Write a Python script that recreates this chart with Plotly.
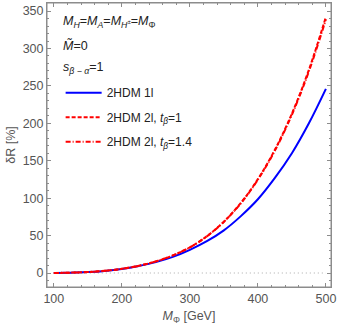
import plotly.graph_objects as go

m_phi = [100, 125, 150, 175, 200, 225, 250, 275, 300, 325, 350, 375, 400, 425, 450, 475, 500]
dR_1l = [0, 0.5, 1.2, 2.8, 5.5, 9.5, 14.5, 21.5, 31, 42.5, 57, 76, 98.5, 127, 160, 200, 246]
dR_2l_tb1 = [0, 0.5, 1.3, 2.9, 5.6, 9.6, 15.5, 23.5, 34.3, 49.2, 68.6, 93.7, 125.4, 164.6, 213, 271.5, 342]
dR_2l_tb14 = [0, 0.5, 1.3, 2.9, 5.6, 9.6, 15.5, 23.5, 34.2, 49.0, 68.3, 93.2, 124.7, 163.5, 211.5, 269.5, 339]
zero_line_x = [100, 500]
zero_line_y = [0, 0]

x_ticks = [100, 200, 300, 400, 500]
y_ticks = [0, 50, 100, 150, 200, 250, 300, 350]

FONT = "Liberation Sans"
GREY = "#555555"
FRAME = "#8c8c8c"

fig = go.Figure()
fig.add_trace(go.Scatter(x=zero_line_x, y=zero_line_y, mode="lines",
                         line=dict(color="#aaaaaa", width=1, dash="1px,3px"),
                         showlegend=False, hoverinfo="skip"))
fig.add_trace(go.Scatter(x=m_phi, y=dR_1l, mode="lines", name="2HDM 1l",
                         line=dict(color="#0000ff", width=2, shape="spline"),
                         legendgroup="a"))
fig.add_trace(go.Scatter(x=m_phi, y=dR_2l_tb1, mode="lines",
                         name="2HDM 2l, <i>t</i><sub><i>β</i></sub>=1",
                         line=dict(color="#ff0000", width=2, shape="spline", dash="4px,2px"),
                         legendgroup="b"))
fig.add_trace(go.Scatter(x=m_phi, y=dR_2l_tb14, mode="lines",
                         name="2HDM 2l, <i>t</i><sub><i>β</i></sub>=1.4",
                         line=dict(color="#ff0000", width=2, shape="spline", dash="5px,2px,1px,2px"),
                         legendgroup="c"))

axis_common = dict(showline=True, linecolor=FRAME, linewidth=1, mirror="allticks",
                   ticks="inside", ticklen=4, tickcolor=FRAME, tickwidth=1, showgrid=False,
                   zeroline=False,
                   tickfont=dict(family=FONT, size=12.5, color=GREY))

fig.update_xaxes(range=[90, 507.5], tickvals=x_ticks, **axis_common,
                 minor=dict(ticks="inside", ticklen=2, tickcolor=FRAME, dtick=20, showgrid=False),
                 title=dict(text="<i>M</i><sub>Φ</sub> [GeV]", standoff=6,
                            font=dict(family=FONT, size=12.5, color=GREY)))
fig.update_yaxes(range=[-18.7, 360.8], tickvals=y_ticks, **axis_common,
                 minor=dict(ticks="inside", ticklen=2, tickcolor=FRAME, dtick=10, showgrid=False),
                 title=dict(text="δR [%]", standoff=4,
                            font=dict(family=FONT, size=12.5, color=GREY)))

# plot frame
fig.add_shape(type="rect", xref="paper", yref="paper", x0=0, y0=0, x1=1, y1=1,
              line=dict(color=FRAME, width=1), fillcolor="rgba(0,0,0,0)", layer="above")

texts = [
    ("<i>M</i><sub><i>H</i></sub>=<i>M</i><sub><i>A</i></sub>=<i>M</i><sub><i>H</i><sup>±</sup></sub>=<i>M</i><sub>Φ</sub>", 22),
    ("<i>M̃</i>=0", 45),
    ("<i>s</i><sub><i>β</i> − <i>α</i></sub>=1", 68),
]
for t, ypx in texts:
    fig.add_annotation(text=t, xref="paper", yref="paper", x=(61 - 47.3) / 284.2,
                       y=1 - (ypx - 2.7) / 284.6, xanchor="left", yanchor="middle",
                       showarrow=False, font=dict(family=FONT, size=12.5, color="#222222"))

fig.update_layout(
    width=339, height=330,
    margin=dict(l=47, r=8, t=3, b=43, autoexpand=False),
    paper_bgcolor="white", plot_bgcolor="white",
    showlegend=True,
    legend=dict(x=0.048, y=1 - (78 - 2.7) / 284.6, xanchor="left", yanchor="top",
                bgcolor="rgba(0,0,0,0)", font=dict(family=FONT, size=12, color="#222222"),
                tracegroupgap=5.5, itemwidth=36),
)

fig.write_html("out.html", config={"displayModeBar": False},
               post_script="document.body.style.margin='0';document.body.style.overflow='hidden';")
